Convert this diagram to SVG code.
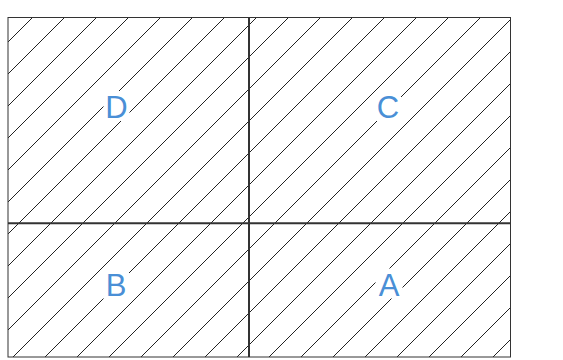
<svg xmlns="http://www.w3.org/2000/svg" width="563" height="360" viewBox="0 0 563 360">
<style>
.hatch{stroke:#222;stroke-width:1;fill:none}
.border{fill:none;stroke:#333;stroke-width:1}
.div{stroke:#333;stroke-width:2}
.lbg{fill:#fff}
.lbl{font-family:"Liberation Sans",Arial,sans-serif;font-size:31px;fill:#4a8fd6;text-anchor:middle}
</style>
<defs>
<clipPath id="clip"><rect x="8" y="17.5" width="502.5" height="339.5"/></clipPath>
</defs>
<rect x="8" y="17.5" width="502.5" height="339.5" fill="#fff"/>
<g id="hatching" clip-path="url(#clip)">
<path class="hatch" d="M50 0L-350 400M82 0L-318 400M114 0L-286 400M146 0L-254 400M178 0L-222 400M210 0L-190 400M242 0L-158 400M274 0L-126 400M306 0L-94 400M338 0L-62 400M370 0L-30 400M402 0L2 400M434 0L34 400M466 0L66 400M498 0L98 400M530 0L130 400M562 0L162 400M594 0L194 400M626 0L226 400M658 0L258 400M690 0L290 400M722 0L322 400M754 0L354 400M786 0L386 400M818 0L418 400M850 0L450 400"/>
</g>
<g id="connectors">
<line class="div" x1="249" y1="17.5" x2="249" y2="357"/>
<line class="div" x1="8" y1="223.3" x2="510.5" y2="223.3"/>
</g>
<rect class="border" x="8" y="17.5" width="502.5" height="339.5"/>
<g id="D"><rect class="lbg" x="103.5" y="91" width="26" height="30"/><text class="lbl" x="116.5" y="117.5">D</text></g>
<g id="C"><rect class="lbg" x="375" y="91" width="26" height="30"/><text class="lbl" x="388" y="117.5">C</text></g>
<g id="B"><rect class="lbg" x="103" y="268.5" width="26" height="30"/><text class="lbl" x="116" y="295.5">B</text></g>
<g id="A"><rect class="lbg" x="375.5" y="268.5" width="27" height="30"/><text class="lbl" x="389" y="295.5">A</text></g>
</svg>
